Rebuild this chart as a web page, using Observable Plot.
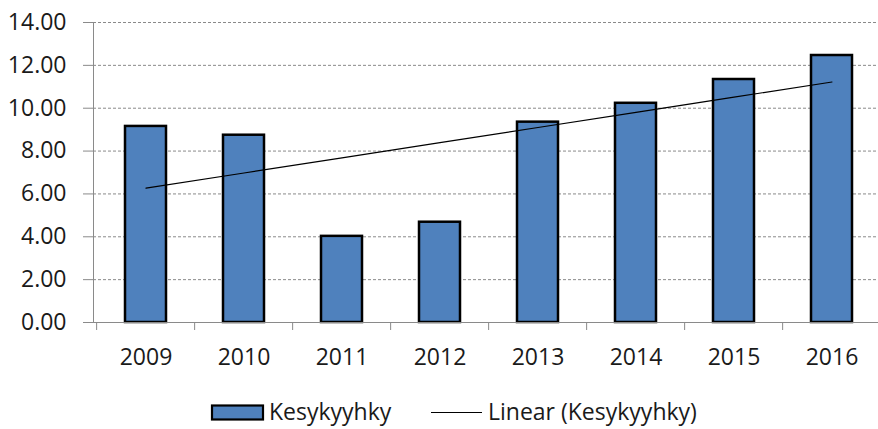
<!DOCTYPE html>
<html>
<head>
<meta charset="utf-8">
<script src="https://cdn.jsdelivr.net/npm/d3@7"></script>
<script src="https://cdn.jsdelivr.net/npm/@observablehq/plot@0.6"></script>
<style>
  html, body { margin: 0; padding: 0; background: #fff; }
  body { width: 878px; height: 429px; overflow: hidden; font-family: "Open Sans", sans-serif; color: #1a1a1a; }
  #legend { display: block; }
</style>
</head>
<body>
<div id="chart"></div>
<svg id="legend" width="878" height="44" font-family="Open Sans, sans-serif" font-size="23" fill="#1a1a1a">
  <rect x="212" y="20.5" width="51" height="14" fill="#4f81bd" stroke="#000" stroke-width="2.2"></rect>
  <text x="269" y="35">Kesykyyhky</text>
  <line x1="431" x2="482" y1="27.5" y2="27.5" stroke="#000" stroke-width="1.2"></line>
  <text x="488" y="35">Linear (Kesykyyhky)</text>
</svg>
<script>
const years = ["2009", "2010", "2011", "2012", "2013", "2014", "2015", "2016"];
const values = [9.15, 8.74, 4.02, 4.68, 9.35, 10.23, 11.34, 12.46];
const yTicks = [0, 2, 4, 6, 8, 10, 12, 14];
const seriesName = "Kesykyyhky";

const data = years.map((y, i) => ({year: y, value: values[i], i: i + 1}));

// least squares linear trend (as in spreadsheet "Linear" trendline)
const mx = d3.mean(data, d => d.i), my = d3.mean(data, d => d.value);
const slope = d3.sum(data, d => (d.i - mx) * (d.value - my)) / d3.sum(data, d => (d.i - mx) ** 2);
const intercept = my - slope * mx;
const trend = data.map(d => ({year: d.year, fit: intercept + slope * d.i}));

const W = 878, H = 385, mL = 93, mR = -5;
const step = (W - mL - mR) / years.length;

const chart = Plot.plot({
  width: W,
  height: H,
  marginTop: 22,
  marginBottom: 63,
  marginLeft: mL,
  marginRight: mR,
  style: {fontFamily: "Open Sans, sans-serif", fontSize: "23px", color: "#1a1a1a", background: "#fff"},
  x: {domain: years, paddingInner: 0.585, paddingOuter: 0.2925, label: null},
  y: {domain: [0, 14], label: null},
  marks: [
    Plot.gridY(yTicks, {stroke: "#8a8a8a", strokeOpacity: 1, strokeDasharray: "3,2", strokeWidth: 1}),
    Plot.frame({anchor: "left", stroke: "#8a8a8a"}),
    Plot.barY(data, {x: "year", y: "value", fill: "#4f81bd", stroke: "#000", strokeWidth: 2.5}),
    Plot.ruleY([0], {stroke: "#8a8a8a"}),
    Plot.line(trend, {x: "year", y: "fit", stroke: "#000", strokeWidth: 1.2}),
    Plot.axisY(yTicks, {tickFormat: d => d.toFixed(2), tickSize: 10, tickPadding: 17, stroke: "#8a8a8a", fill: "#1a1a1a", fontSize: 23}),
    Plot.axisX({tickSize: 0, tickPadding: 26, fill: "#1a1a1a", fontSize: 23}),
    Plot.axisX({tickSize: 8, text: null, dx: -step / 2, stroke: "#8a8a8a"})
  ]
});
document.getElementById("chart").appendChild(chart);
</script>
</body>
</html>
